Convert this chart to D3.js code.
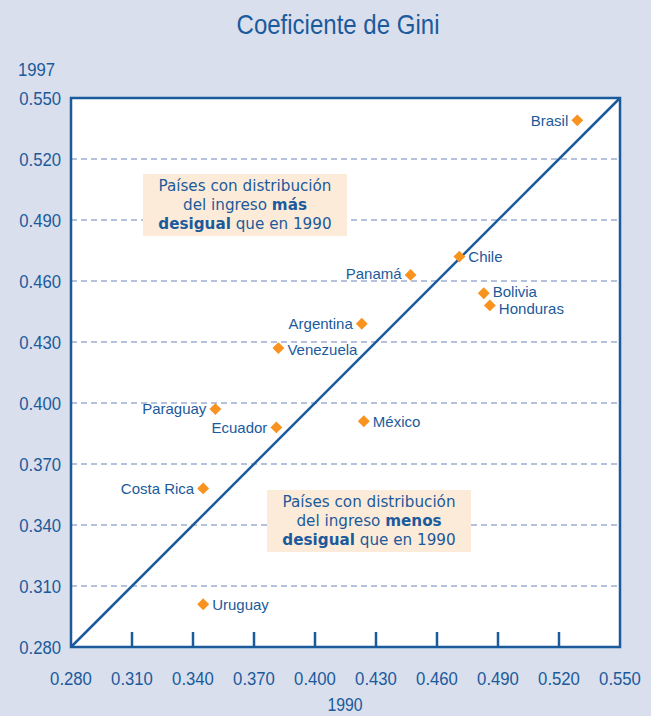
<!DOCTYPE html>
<html>
<head>
<meta charset="utf-8">
<script src="https://cdn.jsdelivr.net/npm/d3@7"></script>
<style>
  html, body { margin: 0; padding: 0; background: #d9dfed; }
  svg { display: block; }
  .narrow { font-family: "Liberation Sans", Arial, sans-serif; }
  .lbl { font-family: "Liberation Sans", Arial, sans-serif; }
  .note { font-family: "DejaVu Sans", Tahoma, sans-serif; }
</style>
</head>
<body>
<div id="chart"></div>
<script>
// Gini coefficient, 1990 (x) vs 1997 (y)
const countries = ["Brasil", "Chile", "Panamá", "Bolivia", "Honduras", "Argentina", "Venezuela",
                   "Paraguay", "Ecuador", "México", "Costa Rica", "Uruguay"];
const gini1990 = [0.529, 0.471, 0.447, 0.483, 0.486, 0.423, 0.382, 0.351, 0.381, 0.424, 0.345, 0.345];
const gini1997 = [0.539, 0.472, 0.463, 0.454, 0.448, 0.439, 0.427, 0.397, 0.388, 0.391, 0.358, 0.301];
const labelSide = ["left", "right", "left", "right", "right", "left", "right",
                   "left", "left", "right", "left", "right"];
const ticks = [0.280, 0.310, 0.340, 0.370, 0.400, 0.430, 0.460, 0.490, 0.520, 0.550];

const blue = "#1b5a9b";
const orange = "#f7931e";

const width = 651, height = 716;
const margin = {top: 98, right: 31, bottom: 69, left: 71};
const w = width - margin.left - margin.right;
const h = height - margin.top - margin.bottom;

const x = d3.scaleLinear().domain([0.28, 0.55]).range([0, w]);
const y = d3.scaleLinear().domain([0.28, 0.55]).range([h, 0]);

const svg = d3.select("#chart").append("svg")
    .attr("width", width)
    .attr("height", height);

// condensed look: squeeze text horizontally
const squeeze = 0.88;

svg.append("text")
    .attr("class", "narrow")
    .attr("transform", "translate(338,34) scale(0.89,1)")
    .attr("text-anchor", "middle")
    .attr("font-size", 27)
    .attr("fill", blue)
    .text("Coeficiente de Gini");

const g = svg.append("g")
    .attr("transform", "translate(" + margin.left + "," + margin.top + ")");

g.append("rect")
    .attr("width", w).attr("height", h)
    .attr("fill", "#fff");

// dashed gridlines
g.append("g").selectAll("line")
    .data(ticks.slice(1, -1))
    .join("line")
    .attr("x1", 0).attr("x2", w)
    .attr("y1", d => y(d)).attr("y2", d => y(d))
    .attr("stroke", "#6f86bb")
    .attr("stroke-width", 1.2)
    .attr("stroke-dasharray", "6,4");

// inner tick marks on x axis
g.append("g").selectAll("line")
    .data(ticks.slice(1, -1))
    .join("line")
    .attr("x1", d => x(d)).attr("x2", d => x(d))
    .attr("y1", h).attr("y2", h - 15)
    .attr("stroke", blue)
    .attr("stroke-width", 2.5);

// y axis labels
svg.append("g").selectAll("text")
    .data(ticks)
    .join("text")
    .attr("class", "narrow")
    .attr("transform", d => "translate(61," + (margin.top + y(d)) + ") scale(" + squeeze + ",1)")
    .attr("dy", "0.36em")
    .attr("text-anchor", "end")
    .attr("font-size", 19)
    .attr("fill", blue)
    .text(d3.format(".3f"));

// x axis labels
svg.append("g").selectAll("text")
    .data(ticks)
    .join("text")
    .attr("class", "narrow")
    .attr("transform", d => "translate(" + (margin.left + x(d)) + ",685) scale(" + squeeze + ",1)")
    .attr("text-anchor", "middle")
    .attr("font-size", 19)
    .attr("fill", blue)
    .text(d3.format(".3f"));

svg.append("text").attr("class", "narrow")
    .attr("transform", "translate(18,76) scale(" + squeeze + ",1)")
    .attr("font-size", 19).attr("fill", blue)
    .text("1997");

svg.append("text").attr("class", "narrow")
    .attr("transform", "translate(345,711) scale(" + squeeze + ",1)")
    .attr("text-anchor", "middle")
    .attr("font-size", 18).attr("fill", blue)
    .text("1990");

// annotation boxes
const notes = [
  {x0: 0.3154, y0: 0.5126, lines: [["Países con distribución"], ["del ingreso ", "más"], ["desigual", " que en 1990"]]},
  {x0: 0.3764, y0: 0.3572, lines: [["Países con distribución"], ["del ingreso ", "menos"], ["desigual", " que en 1990"]]}
];
notes.forEach(n => {
  const bx = x(n.x0), by = y(n.y0);
  g.append("rect")
    .attr("x", bx).attr("y", by)
    .attr("width", 204).attr("height", 62)
    .attr("fill", "#fdebd9");
  n.lines.forEach((ln, i) => {
    const t = g.append("text")
      .attr("class", "note")
      .attr("x", bx + 102)
      .attr("y", by + 17 + i * 19)
      .attr("text-anchor", "middle")
      .attr("font-size", 15.2)
      .attr("fill", blue);
    ln.forEach(part => {
      const bold = (part === "más" || part === "menos" || part === "desigual");
      t.append("tspan").attr("font-weight", bold ? "bold" : "normal").text(part);
    });
  });
});

// diagonal
g.append("line")
    .attr("x1", x(0.28)).attr("y1", y(0.28))
    .attr("x2", x(0.55)).attr("y2", y(0.55))
    .attr("stroke", blue)
    .attr("stroke-width", 2.5);

// frame
g.append("rect")
    .attr("width", w).attr("height", h)
    .attr("fill", "none")
    .attr("stroke", blue)
    .attr("stroke-width", 2.5);

// points
const data = countries.map((c, i) => ({name: c, a: gini1990[i], b: gini1997[i], side: labelSide[i]}));

g.append("g").selectAll("path")
    .data(data)
    .join("path")
    .attr("d", d3.symbol(d3.symbolDiamond2, 90))
    .attr("transform", d => "translate(" + x(d.a) + "," + y(d.b) + ")")
    .attr("fill", orange);

// small vertical nudges so close labels don't collide
const nudge = {"Bolivia": -1, "Honduras": 3, "Venezuela": 2, "Panamá": -1};

g.append("g").selectAll("text")
    .data(data)
    .join("text")
    .attr("class", "lbl")
    .attr("x", d => x(d.a) + (d.side === "left" ? -9 : 9))
    .attr("y", d => y(d.b) + (nudge[d.name] || 0))
    .attr("dy", "0.35em")
    .attr("text-anchor", d => d.side === "left" ? "end" : "start")
    .attr("font-size", 15)
    .attr("fill", blue)
    .text(d => d.name);
</script>
</body>
</html>
